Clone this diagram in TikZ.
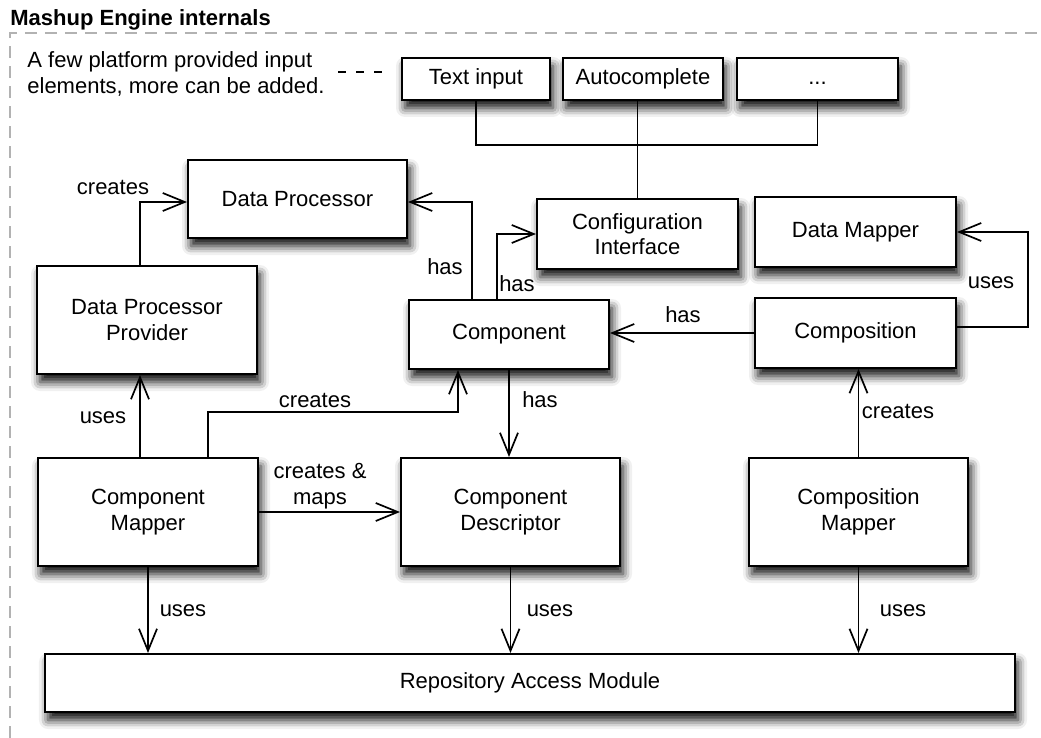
\documentclass[tikz,border=0pt]{standalone}
\usepackage{fontspec}
\setmainfont{Liberation Sans}
\usetikzlibrary{arrows.meta,calc,shadows.blur}

\begin{document}
\begin{tikzpicture}[x=0.5pt,y=-0.5pt,
  unit/.style={draw, line width=1pt, fill=white, align=center,
    font=\fontsize{11}{12.75}\selectfont,
    blur shadow={shadow xshift=1.5pt, shadow yshift=-4pt, shadow blur radius=4.5pt, shadow opacity=95}},
  wire/.style={line width=0.85pt},
  arr/.style={line width=0.85pt, -{Straight Barb[length=11pt,width=9pt]}},
  lbl/.style={font=\fontsize{11}{13}\selectfont, inner sep=0pt, anchor=base},
  frame/.style={draw=black!30, line width=0.8pt, dash pattern=on 6pt off 4pt}]
\useasboundingbox (0,0) rectangle (1041,738);
\node[lbl, anchor=base west, font=\bfseries\fontsize{11}{13}\selectfont] (title) at (10,26) {Mashup Engine internals};
\draw[frame] (10,738) -- (10,33) -- (1041,33);
\node[lbl, anchor=west, align=left] (note) at (27,73.5) {A few platform provided input\\elements, more can be added.};
% input elements
\node[unit, minimum width=74pt, minimum height=21pt] (txtin) at (476,79) {Text input};
\node[unit, minimum width=80pt, minimum height=21pt] (autocomp) at (643,79) {Autocomplete};
\node[unit, minimum width=80.5pt, minimum height=21pt] (dots) at (817.5,79) {\vphantom{Tp}...};
% engine parts
\node[unit, minimum width=109.5pt, minimum height=39pt] (dataproc) at (297.5,199) {Data Processor};
\node[unit, minimum width=100.5pt, minimum height=35pt] (config) at (637.5,234) {Configuration\\Interface};
\node[unit, minimum width=100.5pt, minimum height=35pt] (datamapper) at (855.5,232) {Data Mapper};
\node[unit, minimum width=110pt, minimum height=54pt] (dpp) at (147,320) {Data Processor\\Provider};
\node[unit, minimum width=100pt, minimum height=34.5pt] (component) at (509,334.5) {Component};
\node[unit, minimum width=100.5pt, minimum height=35pt] (composition) at (855.5,333) {Composition};
\node[unit, minimum width=110pt, minimum height=54pt] (cmapper) at (148,512) {Component\\Mapper};
\node[unit, minimum width=109.5pt, minimum height=54pt] (compdesc) at (510.5,512) {Component\\Descriptor};
\node[unit, minimum width=109.5pt, minimum height=54pt] (cpmapper) at (858.5,512) {Composition\\Mapper};
\node[unit, minimum width=485pt, minimum height=29pt] (repo) at (530,683) {Repository Access Module};
% note link
\coordinate (nt1) at (338,72);
\coordinate (nt2) at (382,72);
\draw[wire, dash pattern=on 4pt off 5pt] (nt1) -- (nt2);
\draw[wire] (txtin.south) -- ++(0,44) -| (dots.south);
\draw[wire] (config.north) -- (config.north |- autocomp.south);
% arrows
\draw[arr] ($(dpp.north)+(-7,0)$) |- ($(dataproc.west)+(0,3)$);
\node[lbl] (lcreates1) at (113,195) {creates};
\draw[arr] ($(component.north)+(-37,0)$) |- ($(dataproc.east)+(0,3)$);
\node[lbl] (lhas1) at (445,275) {has};
\draw[arr] ($(component.north)+(-12,0)$) |- (config.west);
\node[lbl] (lhas2) at (517,292) {has};
\draw[arr] (composition.west) -- (composition.west -| component.east);
\node[lbl] (lhas3) at (683,322) {has};
\draw[arr] ($(composition.east)+(0,-6)$) -- ++(71,0) |- (datamapper.east);
\node[lbl] (luses1) at (991,289) {uses};
\draw[arr] ($(cmapper.north)+(-8,0)$) -- ($(dpp.south)+(-7,0)$);
\node[lbl] (luses2) at (103,423) {uses};
\draw[arr] ($(cmapper.north)+(60,0)$) -- ++(0,-45) -| ($(component.south)+(-51,0)$);
\node[lbl] (lcreates2) at (315,408) {creates};
\draw[arr] (component.south) -- (component.south |- compdesc.north);
\node[lbl] (lhas4) at (540,408) {has};
\draw[arr] (cmapper.east) -- (compdesc.west);
\node[lbl, anchor=center, align=center] (lcreates3) at (320,486) {creates \&\\maps};
\draw[arr] (cpmapper.north) -- (cpmapper.north |- composition.south);
\node[lbl] (lcreates4) at (898,419) {creates};
\draw[arr] (cmapper.south) -- (cmapper.south |- repo.north);
\node[lbl] (luses3) at (183,617) {uses};
\draw[arr] (compdesc.south) -- (compdesc.south |- repo.north);
\node[lbl] (luses4) at (550,617) {uses};
\draw[arr] (cpmapper.south) -- (cpmapper.south |- repo.north);
\node[lbl] (luses5) at (903,617) {uses};
\end{tikzpicture}
\end{document}
